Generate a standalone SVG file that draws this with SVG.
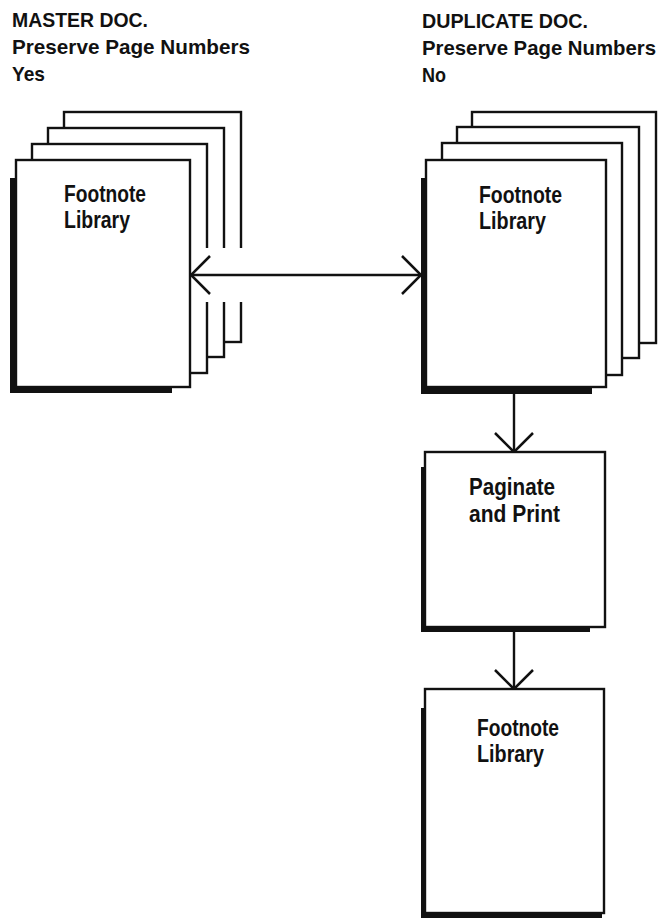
<svg xmlns="http://www.w3.org/2000/svg" width="660" height="920" viewBox="0 0 660 920">
  <style>
    .page { fill: #fff; stroke: #111; stroke-width: 2.4; }
    .shadow { fill: #111; }
    .hdr { font-family: "Liberation Sans", Arial, sans-serif; font-weight: bold; font-size: 20.5px; fill: #111; }
    .lbl { font-family: "Liberation Sans", Arial, sans-serif; font-weight: bold; font-size: 23.5px; fill: #111; }
    .link { fill: none; stroke: #111; stroke-width: 2.4; }
  </style>
  <defs>
    <!-- open V arrowhead -->
    <marker id="vhead" viewBox="0 0 21 40" refX="20" refY="20" markerWidth="21" markerHeight="40" markerUnits="userSpaceOnUse" orient="auto-start-reverse">
      <path d="M1,1 L20,20 L1,39" fill="none" stroke="#111" stroke-width="2.5"/>
    </marker>
  </defs>
  <rect width="660" height="920" fill="#fff"/>

  <!-- column headings -->
  <g id="master-heading">
    <text class="hdr" x="12" y="27" textLength="136" lengthAdjust="spacingAndGlyphs">MASTER DOC.</text>
    <text class="hdr" x="12" y="54" textLength="238" lengthAdjust="spacingAndGlyphs">Preserve Page Numbers</text>
    <text class="hdr" x="12" y="81" textLength="33" lengthAdjust="spacingAndGlyphs">Yes</text>
  </g>
  <g id="duplicate-heading">
    <text class="hdr" x="422" y="28" textLength="166" lengthAdjust="spacingAndGlyphs">DUPLICATE DOC.</text>
    <text class="hdr" x="422" y="55" textLength="234" lengthAdjust="spacingAndGlyphs">Preserve Page Numbers</text>
    <text class="hdr" x="422" y="82" textLength="24" lengthAdjust="spacingAndGlyphs">No</text>
  </g>

  <!-- master document: stack of pages -->
  <g id="master-doc">
    <rect class="page" x="64" y="112" width="177" height="230"/>
    <rect class="page" x="48" y="128" width="176" height="229"/>
    <rect class="page" x="32" y="144" width="175" height="229"/>
    <path class="shadow" d="M10,178 H17 V387 H172 V393 H10 Z"/>
    <rect class="page" x="16" y="160" width="174" height="227"/>
    <!-- break in the back pages where the link passes -->
    <rect x="193" y="248" width="52" height="54" fill="#fff"/>
    <text class="lbl" x="64" y="202" textLength="82" lengthAdjust="spacingAndGlyphs">Footnote</text>
    <text class="lbl" x="64" y="228" textLength="66" lengthAdjust="spacingAndGlyphs">Library</text>
  </g>

  <!-- duplicate document: stack of pages -->
  <g id="duplicate-doc">
    <rect class="page" x="472" y="112" width="184" height="231"/>
    <rect class="page" x="457" y="127" width="182" height="231"/>
    <rect class="page" x="442" y="143" width="180" height="232"/>
    <path class="shadow" d="M421,178 H427 V387 H592 V394 H421 Z"/>
    <rect class="page" x="426" y="160" width="180" height="227"/>
    <text class="lbl" x="479" y="203" textLength="83" lengthAdjust="spacingAndGlyphs">Footnote</text>
    <text class="lbl" x="479" y="229" textLength="67" lengthAdjust="spacingAndGlyphs">Library</text>
  </g>

  <!-- paginate step -->
  <g id="paginate">
    <path class="shadow" d="M421,467 H426 V627 H590 V632 H421 Z"/>
    <rect class="page" x="425" y="452" width="180" height="175"/>
    <text class="lbl" x="469" y="495" textLength="86" lengthAdjust="spacingAndGlyphs">Paginate</text>
    <text class="lbl" x="469" y="522" textLength="91" lengthAdjust="spacingAndGlyphs">and Print</text>
  </g>

  <!-- resulting document -->
  <g id="result-doc">
    <path class="shadow" d="M421,708 H426 V913 H602 V918 H421 Z"/>
    <rect class="page" x="425" y="689" width="179" height="224"/>
    <text class="lbl" x="477" y="736" textLength="82" lengthAdjust="spacingAndGlyphs">Footnote</text>
    <text class="lbl" x="477" y="762" textLength="67" lengthAdjust="spacingAndGlyphs">Library</text>
  </g>

  <!-- connectors -->
  <g id="connectors">
    <line class="link" x1="191" y1="275" x2="421" y2="275" marker-start="url(#vhead)" marker-end="url(#vhead)"/>
    <line class="link" x1="514" y1="394" x2="514" y2="452" marker-end="url(#vhead)"/>
    <line class="link" x1="514" y1="632" x2="514" y2="689" marker-end="url(#vhead)"/>
  </g>
</svg>
